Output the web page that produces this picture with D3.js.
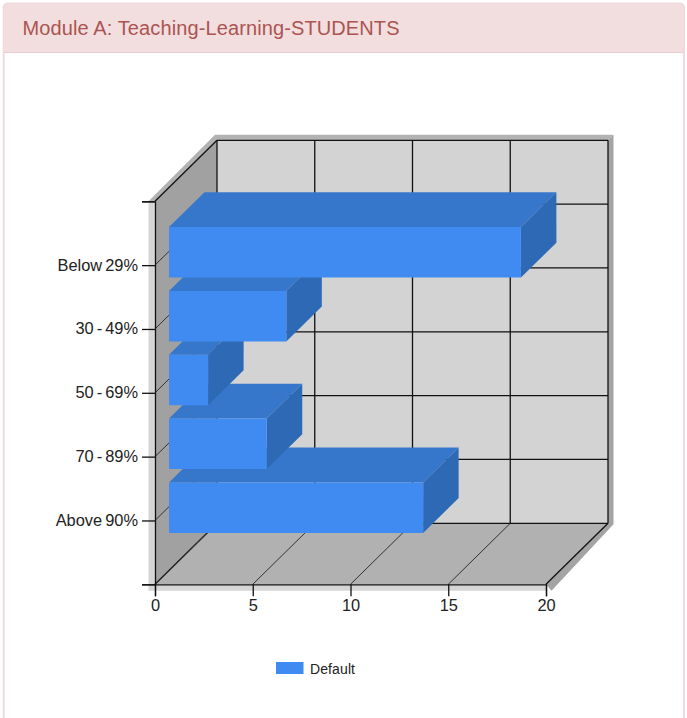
<!DOCTYPE html>
<html>
<head>
<meta charset="utf-8">
<script src="https://cdn.jsdelivr.net/npm/d3@7"></script>
<style>
  html, body { margin: 0; padding: 0; background: #fff; }
  svg { display: block; }
  text { font-family: "Liberation Sans", Arial, sans-serif; }
</style>
</head>
<body>
<script>
/***********************************************************************************/
// Data

var title = 'Module A: Teaching-Learning-STUDENTS';
var categories = ['Below 29%', '30 - 49%', '50 - 69%', '70 - 89%', 'Above 90%'];
var values = [18, 6, 2, 5, 13];
var xTicks = [0, 5, 10, 15, 20];
var seriesName = 'Default';

/***********************************************************************************/
// Setup

var width = 687, height = 718;
var dx = 62, dy = 61;          // 3D wall offset
var barNear = 14 / 62, barFar = 49.5 / 62, barHeight = 50.5;

var svg = d3.select('body').append('svg').attr('width', width).attr('height', height);

var x = d3.scaleLinear().domain([0, 20]).range([155, 546]);
var y = d3.scalePoint().domain(['top'].concat(categories, ['bottom'])).range([201.3, 584.3]);

// project a value / y pixel back into the depth of the box
function px(v, d){ return x(v) + dx * d; }
function py(yy, d){ return yy - dy * d; }
function poly(pts){ return pts.map(function(p){ return p.join(','); }).join(' '); }

/***********************************************************************************/
// Panel

svg.append('rect').attr('x', 3.7).attr('y', 3.5).attr('width', 680.3).attr('height', 730).attr('rx', 4)
  .attr('fill', '#fff').attr('stroke', '#f0d9dc').attr('stroke-width', 2);
svg.append('path').attr('d', 'M4,52V8a4,4 0 0 1 4,-4H679a4,4 0 0 1 4,4V52Z').attr('fill', '#f2dede');
svg.append('line').attr('x1', 4).attr('x2', 683).attr('y1', 52.5).attr('y2', 52.5).attr('stroke', '#ebccd1');
svg.append('text').attr('x', 22.5).attr('y', 34.5).attr('font-size', 20).attr('fill', '#ab5451')
  .attr('textLength', 377).text(title);

/***********************************************************************************/
// Box

var x0 = x(0), x1 = x(20), yTop = y('top'), yBot = y('bottom');
var pad = 6.5, padBack = 5.5;

// frame
svg.append('polygon').attr('fill', '#b2b2b2')
  .attr('points', poly([[x0 - pad, yTop], [x0 + dx - 2, py(yTop, 1) - padBack], [x1 + dx + padBack, py(yTop, 1) - padBack], [x1 + dx, py(yTop, 1)], [x0 + dx, py(yTop, 1)], [x0, yTop]]));
svg.append('polygon').attr('fill', '#a4a4a4')
  .attr('points', poly([[x1 + dx, py(yTop, 1)], [x1 + dx + padBack, py(yTop, 1) - padBack], [x1 + dx + padBack, py(yBot, 1) + 1], [x1 + pad - 1, yBot + pad], [x1, yBot], [x1 + dx, py(yBot, 1)]]));
svg.append('polygon').attr('fill', '#d6d6d6')
  .attr('points', poly([[x0 - pad, yTop], [x0, yTop], [x0, yBot], [x1, yBot], [x1, yBot + pad], [x0 - pad, yBot + pad]]));

// walls
svg.append('polygon').attr('fill', '#d3d3d3')
  .attr('points', poly([[px(0, 1), py(yTop, 1)], [px(20, 1), py(yTop, 1)], [px(20, 1), py(yBot, 1)], [px(0, 1), py(yBot, 1)]]));
svg.append('polygon').attr('fill', '#a1a1a1')
  .attr('points', poly([[px(0, 0), yTop], [px(0, 1), py(yTop, 1)], [px(0, 1), py(yBot, 1)], [px(0, 0), yBot]]));
svg.append('polygon').attr('fill', '#b1b1b1')
  .attr('points', poly([[px(0, 0), yBot], [px(20, 0), yBot], [px(20, 1), py(yBot, 1)], [px(0, 1), py(yBot, 1)]]));

// grid lines, the slanted ones are drawn thinner
var grid = svg.append('g').attr('fill', 'none');
function hard(l){ return l.attr('stroke', '#111').attr('stroke-width', 1.3); }
function soft(l){ return l.attr('stroke', '#333').attr('stroke-width', 1); }

xTicks.forEach(function(v){
  hard(grid.append('line')).attr('x1', px(v, 1)).attr('x2', px(v, 1)).attr('y1', py(yTop, 1)).attr('y2', py(yBot, 1));
  (v == 0 || v == 20 ? hard : soft)(grid.append('line')).attr('x1', px(v, 0)).attr('x2', px(v, 1)).attr('y1', yBot).attr('y2', py(yBot, 1));
});
y.domain().forEach(function(c){
  var yy = y(c);
  hard(grid.append('line')).attr('x1', px(0, 1)).attr('x2', px(20, 1)).attr('y1', py(yy, 1)).attr('y2', py(yy, 1));
  (c == 'top' ? hard : soft)(grid.append('line')).attr('x1', px(0, 0)).attr('x2', px(0, 1)).attr('y1', yy).attr('y2', py(yy, 1));
});

/***********************************************************************************/
// Bars, bottom one first so upper bars overlap it

var rows = categories.map(function(c, i){ return { cat: c, val: values[i] }; }).reverse();

var bar = svg.selectAll('g.bar').data(rows).enter().append('g').attr('class', 'bar');

function top_of(d){ return y(d.cat) - barHeight / 2 + 1; }

bar.append('polygon').attr('fill', '#3777cb').attr('points', function(d){
  var t = top_of(d);
  return poly([[px(0, barNear), py(t, barNear)], [px(d.val, barNear), py(t, barNear)], [px(d.val, barFar), py(t, barFar)], [px(0, barFar), py(t, barFar)]]);
});
bar.append('polygon').attr('fill', '#2e69b5').attr('points', function(d){
  var t = top_of(d), b = t + barHeight;
  return poly([[px(d.val, barNear), py(t, barNear)], [px(d.val, barFar), py(t, barFar)], [px(d.val, barFar), py(b, barFar)], [px(d.val, barNear), py(b, barNear)]]);
});
bar.append('polygon').attr('fill', '#3f8bf1').attr('points', function(d){
  var t = top_of(d), b = t + barHeight;
  return poly([[px(0, barNear), py(t, barNear)], [px(d.val, barNear), py(t, barNear)], [px(d.val, barNear), py(b, barNear)], [px(0, barNear), py(b, barNear)]]);
});

/***********************************************************************************/
// Axes

var xAxis = d3.axisBottom(x).tickValues(xTicks).tickSize(12).tickPadding(3).tickFormat(d3.format('d'));
var yAxis = d3.axisLeft(y).tickSize(13).tickPadding(4).tickFormat(function(d){
  return categories.indexOf(d) >= 0 ? d : '';
});

var gx = svg.append('g').attr('transform', 'translate(0,' + yBot + ')').call(xAxis);
var gy = svg.append('g').attr('transform', 'translate(' + x0 + ',0)').call(yAxis);

[gx, gy].forEach(function(g){
  g.selectAll('.domain').attr('stroke', '#111').attr('stroke-width', 1.3);
  g.selectAll('.tick line').attr('stroke', '#111').attr('stroke-width', 1.3);
  g.selectAll('text').attr('font-family', '"Liberation Sans", Arial, sans-serif')
    .attr('font-size', 16.4).attr('fill', '#222').attr('word-spacing', -1.5);
});
gy.selectAll('text').attr('dy', '0.3em');

/***********************************************************************************/
// Legend

svg.append('rect').attr('x', 276).attr('y', 662).attr('width', 27.5).attr('height', 12).attr('fill', '#3f8bf1');
svg.append('text').attr('x', 310).attr('y', 673.5).attr('font-size', 14).attr('fill', '#222').attr('textLength', 45).text(seriesName);
</script>
</body>
</html>
